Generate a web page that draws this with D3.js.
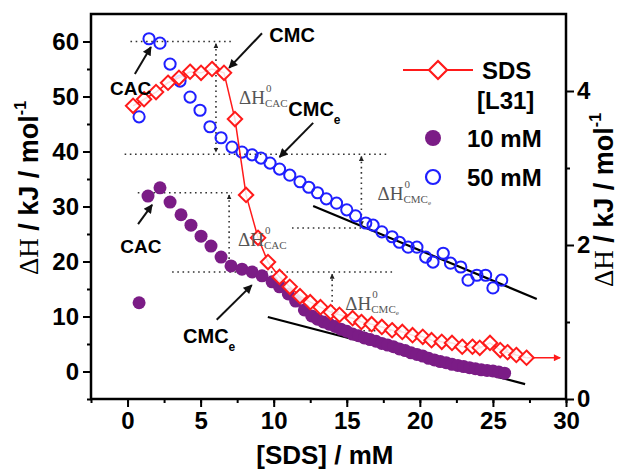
<!DOCTYPE html>
<html>
<head>
<meta charset="utf-8">
<script src="https://cdn.jsdelivr.net/npm/d3@7"></script>
<style>
  body { margin: 0; background: #fff; }
  svg { display: block; }
</style>
</head>
<body>
<div id="chart"></div>
<script>
// SDS in water (red diamonds)
const sdsConc = [0.38,1.13,1.95,2.77,3.52,4.28,5.03,5.78,6.60,7.35,8.11,8.93,9.61,10.4,11.1,11.8,12.5,13.2,13.9,14.5,15.4,16.0,16.7,17.4,18.1,18.8,19.5,20.2,20.8,21.5,22.2,22.9,23.6,24.1,24.8,25.5,26.0,26.6,27.3];
const sdsDH   = [48.3,49.5,50.8,52.5,53.4,54.5,54.3,55.0,54.3,45.9,32.1,24.3,19.9,17.2,15.4,13.7,12.6,11.7,10.8,10.3,9.7,9.0,8.6,8.1,7.5,7.2,6.6,6.3,5.7,5.4,5.2,4.5,4.5,4.3,5.2,3.9,3.5,3.0,2.5];

// [L31] 10 mM (purple dots)
const l10Conc = [0.79,1.40,2.22,2.91,3.66,4.34,5.03,5.71,6.40,7.08,7.83,8.52,9.20,9.89,10.4,11.0,11.5,12.1,12.6,13.0,13.4,13.8,14.2,14.6,15.0,15.4,15.8,16.2,16.6,17.0,17.4,17.8,18.2,18.6,19.0,19.4,19.8,20.2,20.6,21.0,21.4,21.8,22.2,22.6,23.0,23.4,23.8,24.2,24.6,25.0,25.4,25.8];
const l10DH   = [12.5,31.9,33.4,30.8,28.5,26.6,24.6,22.8,20.8,19.2,18.6,18.1,17.4,16.3,15.4,14.1,12.8,11.2,10.1,9.5,9.0,8.6,8.2,7.7,7.3,6.8,6.5,6.1,5.8,5.5,5.1,4.8,4.5,4.1,3.8,3.4,3.1,2.8,2.4,2.1,1.8,1.6,1.3,1.1,0.9,0.7,0.5,0.3,0.2,0.1,-0.1,-0.3];

// [L31] 50 mM (blue open circles)
const l50Conc = [0.79,1.47,2.22,2.91,3.59,4.28,4.96,5.64,6.40,7.15,7.83,8.52,9.13,9.75,10.4,11.1,11.8,12.4,13.0,13.6,14.3,15.0,15.6,16.3,16.8,17.4,18.1,18.6,19.2,19.8,20.4,20.9,21.6,22.1,22.8,23.3,23.9,24.5,25.0,25.6];
const l50DH   = [46.3,60.5,59.7,55.9,52.8,49.9,47.5,44.5,42.5,40.8,39.9,39.4,38.8,37.9,36.8,35.7,34.5,33.5,32.5,31.4,30.6,29.4,28.3,27.0,26.6,25.4,24.5,23.5,22.6,22.6,20.8,19.9,21.5,19.7,19.0,16.6,17.5,17.5,15.2,16.6];

// linear fits (end points)
const fit50 = [[12.7, 30.1], [28.0, 13.2]];
const fit10 = [[9.6, 9.9], [27.2, -2.3]];

const xTicks = [0, 5, 10, 15, 20, 25, 30];
const yTicksLeft = [0, 10, 20, 30, 40, 50, 60];
const yTicksRight = [0, 2, 4];

const W = 626, H = 474;
const margin = { top: 14, right: 60, bottom: 75, left: 91 };
const innerW = W - margin.left - margin.right;
const innerH = H - margin.top - margin.bottom;

const RED = '#ff1a1a', PURPLE = '#7b1c86', BLUE = '#1f1fff';
const SANS = '"Liberation Sans", Arial, sans-serif';
const SERIF = '"Liberation Serif", "Times New Roman", serif';

const svg = d3.select('#chart').append('svg')
    .attr('width', W).attr('height', H);

const defs = svg.append('defs');
defs.append('marker').attr('id', 'arr')
    .attr('viewBox', '0 0 10 10').attr('refX', 9).attr('refY', 5)
    .attr('markerWidth', 11).attr('markerHeight', 9).attr('markerUnits', 'userSpaceOnUse')
    .attr('orient', 'auto')
    .append('path').attr('d', 'M0,0 L10,5 L0,10 z').attr('fill', '#111');
defs.append('marker').attr('id', 'arrS')
    .attr('viewBox', '0 0 10 10').attr('refX', 9).attr('refY', 5)
    .attr('markerWidth', 5).attr('markerHeight', 5).attr('markerUnits', 'userSpaceOnUse')
    .attr('orient', 'auto-start-reverse')
    .append('path').attr('d', 'M0,0 L10,5 L0,10 z').attr('fill', '#222');
defs.append('marker').attr('id', 'arrR')
    .attr('viewBox', '0 0 10 10').attr('refX', 9).attr('refY', 5)
    .attr('markerWidth', 10).attr('markerHeight', 7).attr('markerUnits', 'userSpaceOnUse')
    .attr('orient', 'auto')
    .append('path').attr('d', 'M0,0 L10,5 L0,10 z').attr('fill', RED);

const g = svg.append('g').attr('transform', `translate(${margin.left},${margin.top})`);

const x = d3.scaleLinear().domain([-2.5, 30]).range([0, innerW]);
const y = d3.scaleLinear().domain([-5, 65]).range([innerH, 0]);
const y2 = d3.scaleLinear().domain([0, 5]).range([innerH, 0]);

// axes
function styleAxis(sel) {
    sel.select('.domain').remove();
    sel.selectAll('line').attr('stroke', '#000').attr('stroke-width', 2);
    sel.selectAll('text').attr('font-family', SANS).attr('font-weight', 'bold')
        .attr('font-size', 24).attr('fill', '#000');
}
g.append('g').attr('transform', `translate(0,${innerH})`)
    .call(d3.axisBottom(x).tickValues(d3.range(-2.5, 30.1, 2.5)).tickSize(4).tickFormat(''))
    .call(styleAxis);
g.append('g').attr('transform', `translate(0,${innerH})`)
    .call(d3.axisBottom(x).tickValues(xTicks).tickSize(8).tickPadding(5).tickFormat(d3.format('d')))
    .call(styleAxis);
g.append('g')
    .call(d3.axisLeft(y).tickValues(d3.range(-5, 65, 10)).tickSize(4).tickFormat(''))
    .call(styleAxis);
g.append('g')
    .call(d3.axisLeft(y).tickValues(yTicksLeft).tickSize(8).tickPadding(4).tickFormat(d3.format('d')))
    .call(styleAxis);
g.append('g').attr('transform', `translate(${innerW},0)`)
    .call(d3.axisRight(y2).tickValues([1, 3]).tickSize(4).tickFormat(''))
    .call(styleAxis);
g.append('g').attr('transform', `translate(${innerW},0)`)
    .call(d3.axisRight(y2).tickValues(yTicksRight).tickSize(8).tickPadding(3).tickFormat(d3.format('d')))
    .call(styleAxis);

g.append('rect').attr('width', innerW).attr('height', innerH)
    .attr('fill', 'none').attr('stroke', '#000').attr('stroke-width', 2.5);

// dotted guide lines
const guides = [
    [[0.2, 60], [7.2, 60]],
    [[-0.2, 39.5], [17.8, 39.5]],
    [[11.25, 26.1], [16.5, 26.1]],
    [[0.7, 32.5], [7.15, 32.5]],
    [[3.05, 18.1], [18.1, 18.1]],
    [[14.0, 7.4], [19.7, 7.4]]
];
const guideArrows = [
    [[6.05, 59.6], [6.05, 39.9]],
    [[16.0, 39.1], [16.0, 26.5]],
    [[6.95, 32.1], [6.95, 18.5]],
    [[14.0, 17.7], [14.0, 7.8]]
];
const line = d3.line().x(d => x(d[0])).y(d => y(d[1]));
g.selectAll('.guide').data(guides).enter().append('path')
    .attr('d', line).attr('stroke', '#333').attr('stroke-width', 1.6)
    .attr('stroke-dasharray', '1.6,3.6').attr('fill', 'none');
g.selectAll('.garrow').data(guideArrows).enter().append('path')
    .attr('d', line).attr('stroke', '#333').attr('stroke-width', 1.6)
    .attr('stroke-dasharray', '1.6,3.6').attr('fill', 'none')
    .attr('marker-start', 'url(#arrS)').attr('marker-end', 'url(#arrS)');

// fit lines
[fit50, fit10].forEach(f => {
    g.append('path').attr('d', line(f)).attr('stroke', '#000').attr('stroke-width', 2.2).attr('fill', 'none');
});

// purple dots
g.selectAll('.p10').data(d3.range(l10Conc.length)).enter().append('circle')
    .attr('cx', i => x(l10Conc[i])).attr('cy', i => y(l10DH[i]))
    .attr('r', 6.5).attr('fill', PURPLE);

// blue open circles
g.selectAll('.p50').data(d3.range(l50Conc.length)).enter().append('circle')
    .attr('cx', i => x(l50Conc[i])).attr('cy', i => y(l50DH[i]))
    .attr('r', 5.6).attr('fill', 'none').attr('stroke', BLUE).attr('stroke-width', 2);

// red SDS line + diamonds
const sdsPts = sdsConc.map((c, i) => [c, sdsDH[i]]);
g.append('path').attr('d', line(sdsPts)).attr('stroke', RED).attr('stroke-width', 1.5).attr('fill', 'none');
g.append('path').attr('d', line([sdsPts[sdsPts.length - 1], [29.6, sdsDH[sdsDH.length - 1]]]))
    .attr('stroke', RED).attr('stroke-width', 1.5).attr('marker-end', 'url(#arrR)');
const dia = 'M0,-7.2 L7.2,0 L0,7.2 L-7.2,0 Z';
g.selectAll('.sds').data(sdsPts).enter().append('path')
    .attr('d', dia).attr('transform', d => `translate(${x(d[0])},${y(d[1])})`)
    .attr('fill', '#fff').attr('fill-opacity', 0.85).attr('stroke', RED).attr('stroke-width', 2);

// annotation arrows
const notes = [
    [[9.2, 61.5], [6.95, 55.2]],
    [[0.5, 54.1], [1.6, 59.0]],
    [[12.7, 45.2], [10.4, 39.0]],
    [[0.72, 26.8], [1.68, 30.3]],
    [[6.1, 9.4], [8.5, 15.7]]
];
g.selectAll('.note').data(notes).enter().append('path')
    .attr('d', line).attr('stroke', '#111').attr('stroke-width', 2)
    .attr('marker-end', 'url(#arr)');

// text labels
function boldLabel(txt, sub, xv, yv, size) {
    const t = g.append('text').attr('x', x(xv)).attr('y', y(yv))
        .attr('font-family', SANS).attr('font-weight', 'bold').attr('font-size', size).attr('fill', '#000')
        .text(txt);
    if (sub) {
        t.append('tspan').attr('dy', 8).attr('font-size', size * 0.6).text(sub);
    }
}
boldLabel('CMC', null, 9.7, 59.9, 20);
boldLabel('CAC', null, -1.2, 50.3, 19);
boldLabel('CMC', 'e', 11.0, 46.4, 20);
boldLabel('CAC', null, -0.5, 21.5, 19);
boldLabel('CMC', 'e', 3.8, 5.2, 20);

function dhLabel(sub, subE, xv, yv) {
    const gg = g.append('g').attr('transform', `translate(${x(xv)},${y(yv)})`)
        .attr('fill', '#555').attr('font-family', SERIF);
    const t = gg.append('text').attr('font-size', 19).text('ΔH');
    const w = t.node().getComputedTextLength();
    gg.append('text').attr('x', w + 1).attr('y', -12).attr('font-size', 11).text('0');
    const s = gg.append('text').attr('x', w).attr('y', 3).attr('font-size', 11).text(sub);
    if (subE) s.append('tspan').attr('dy', 2).attr('font-size', 7).text('e');
}
dhLabel('CAC', false, 7.63, 48.6);
dhLabel('CMC', true, 17.1, 31.2);
dhLabel('CAC', false, 7.56, 22.8);
dhLabel('CMC', true, 14.9, 11.2);

// legend
const lg = svg.append('g').attr('font-family', SANS).attr('font-weight', 'bold').attr('font-size', 24);
lg.append('line').attr('x1', 403).attr('x2', 473).attr('y1', 70).attr('y2', 70)
    .attr('stroke', RED).attr('stroke-width', 1.8);
lg.append('path').attr('d', 'M0,-9 L9,0 L0,9 L-9,0 Z').attr('transform', 'translate(438,70)')
    .attr('fill', '#fff').attr('stroke', RED).attr('stroke-width', 2.2);
lg.append('text').attr('x', 482).attr('y', 79).text('SDS');
lg.append('text').attr('x', 477).attr('y', 109).text('[L31]');
lg.append('circle').attr('cx', 433).attr('cy', 138).attr('r', 8).attr('fill', PURPLE);
lg.append('text').attr('x', 467).attr('y', 147).text('10 mM');
lg.append('circle').attr('cx', 433).attr('cy', 177).attr('r', 7).attr('fill', 'none')
    .attr('stroke', BLUE).attr('stroke-width', 2.2);
lg.append('text').attr('x', 467).attr('y', 186).text('50 mM');

// axis titles
svg.append('text').attr('x', margin.left + x(13.5)).attr('y', 464)
    .attr('text-anchor', 'middle').attr('font-family', SANS).attr('font-weight', 'bold')
    .attr('font-size', 26).text('[SDS] / mM');

function yTitle(cx, cy) {
    const t = svg.append('text').attr('transform', `translate(${cx},${cy}) rotate(-90)`)
        .attr('text-anchor', 'middle').attr('font-family', SANS).attr('font-weight', 'bold')
        .attr('font-size', 27).attr('fill', '#000');
    t.append('tspan').attr('font-family', SERIF).attr('font-weight', 'normal').text('ΔH');
    t.append('tspan').text(' / kJ / mol');
    t.append('tspan').attr('font-size', 16).attr('dy', -12).text('-1');
}
yTitle(38, 188);
yTitle(613, 200);
</script>
</body>
</html>
